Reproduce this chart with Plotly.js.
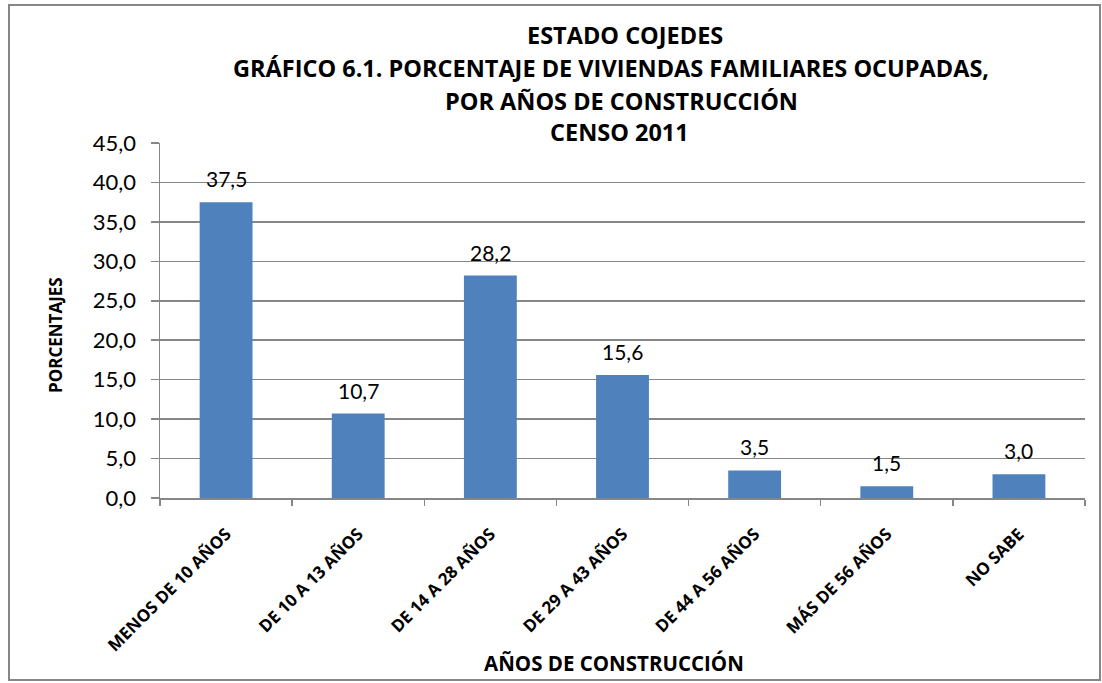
<!DOCTYPE html>
<html>
<head>
<meta charset="utf-8">
<script src="https://cdn.plot.ly/plotly-3.0.1.min.js"></script>
<style>
html,body{margin:0;padding:0;background:#fff;}
#chart{width:1102px;height:683px;}
</style>
</head>
<body>
<div id="chart"></div>
<script>
const categories = ["MENOS DE 10 AÑOS","DE 10 A 13 AÑOS","DE 14 A 28 AÑOS","DE 29 A 43 AÑOS","DE 44 A 56 AÑOS","MÁS DE 56 AÑOS","NO SABE"];
const values = [37.5, 10.7, 28.2, 15.6, 3.5, 1.5, 3.0];
const valueLabels = ["37,5","10,7","28,2","15,6","3,5","1,5","3,0"];
const yTickVals = [0,5,10,15,20,25,30,35,40,45];
const yTickText = ["0,0","5,0","10,0","15,0","20,0","25,0","30,0","35,0","40,0","45,0"];
const titleLines = ["ESTADO COJEDES","GRÁFICO 6.1. PORCENTAJE DE VIVIENDAS FAMILIARES OCUPADAS,","POR AÑOS DE CONSTRUCCIÓN","CENSO 2011"];
const xTitle = "AÑOS DE CONSTRUCCIÓN";
const yTitle = "PORCENTAJES";

const W=1102,H=683;
const L=160,R=1085,T=143,B=498;
const pw=R-L, ph=B-T;
const px = x => (x-L)/pw;
const py = y => (B-y)/ph;

const FONT = "Lato, 'Open Sans', sans-serif";
const BFONT = "'Open Sans', Lato, sans-serif";
const titleY = [35,68,101,132];
const titleX = [625,611,621,619];
const annotations = titleLines.map((t,i)=>({
  text:"<b>"+t+"</b>", xref:"paper", yref:"paper", x:px(titleX[i]), y:py(titleY[i]),
  xanchor:"center", yanchor:"middle", showarrow:false,
  font:{family:BFONT,size:23.5,color:"#000"}
}));
annotations.push({
  text:"<b>"+xTitle+"</b>", xref:"paper", yref:"paper", x:px(614), y:py(663),
  xanchor:"center", yanchor:"middle", showarrow:false,
  font:{family:BFONT,size:20.5,color:"#000"}
});
annotations.push({
  text:"<b>"+yTitle+"</b>", xref:"paper", yref:"paper", x:px(55), y:py(335),
  xanchor:"center", yanchor:"middle", showarrow:false, textangle:-90,
  font:{family:BFONT,size:17,color:"#000"}
});
categories.forEach((c,i)=>{
  annotations.push({
    text:valueLabels[i], x:c, y:values[i], xref:"x", yref:"y",
    xanchor:"center", yanchor:"bottom", yshift:9, showarrow:false,
    font:{family:FONT,size:21,color:"#000"}
  });
});

const trace = {
  type:"bar", x:categories, y:values,
  marker:{color:"#4F81BD", line:{width:0}},
  hoverinfo:"none"
};

const layout = {
  width:W,height:H,
  margin:{l:L,r:W-R,t:T,b:H-B,pad:0},
  paper_bgcolor:"#fff", plot_bgcolor:"#fff",
  bargap:0.6, showlegend:false,
  font:{family:FONT,color:"#000"},
  xaxis:{
    type:"category", tickangle:-45, tickson:"boundaries",
    ticks:"outside", ticklen:6, tickcolor:"#868686", tickwidth:1.5,
    showline:true, linecolor:"#868686", linewidth:1.5, showgrid:false,
    tickfont:{family:BFONT,size:17,color:"#000",weight:"bold"},
    ticklabelstandoff:18,
    automargin:false
  },
  yaxis:{
    range:[0,45], tickvals:yTickVals, ticktext:yTickText,
    ticks:"outside", ticklen:8, tickcolor:"#868686", tickwidth:1.5,
    showline:true, linecolor:"#868686", linewidth:1.5,
    showgrid:true, gridcolor:"#868686", gridwidth:1.5, zeroline:false,
    tickfont:{family:FONT,size:22,color:"#000"},
    ticklabelstandoff:10,
    automargin:false
  },
  annotations:annotations,
  shapes:[{
    type:"rect", xref:"paper", yref:"paper",
    x0:px(9), x1:px(1100), y0:py(680), y1:py(5),
    line:{color:"#868686",width:2}, fillcolor:"rgba(0,0,0,0)", layer:"below"
  }]
};

Plotly.newPlot("chart",[trace],layout,{displayModeBar:false,staticPlot:true});
</script>
</body>
</html>
